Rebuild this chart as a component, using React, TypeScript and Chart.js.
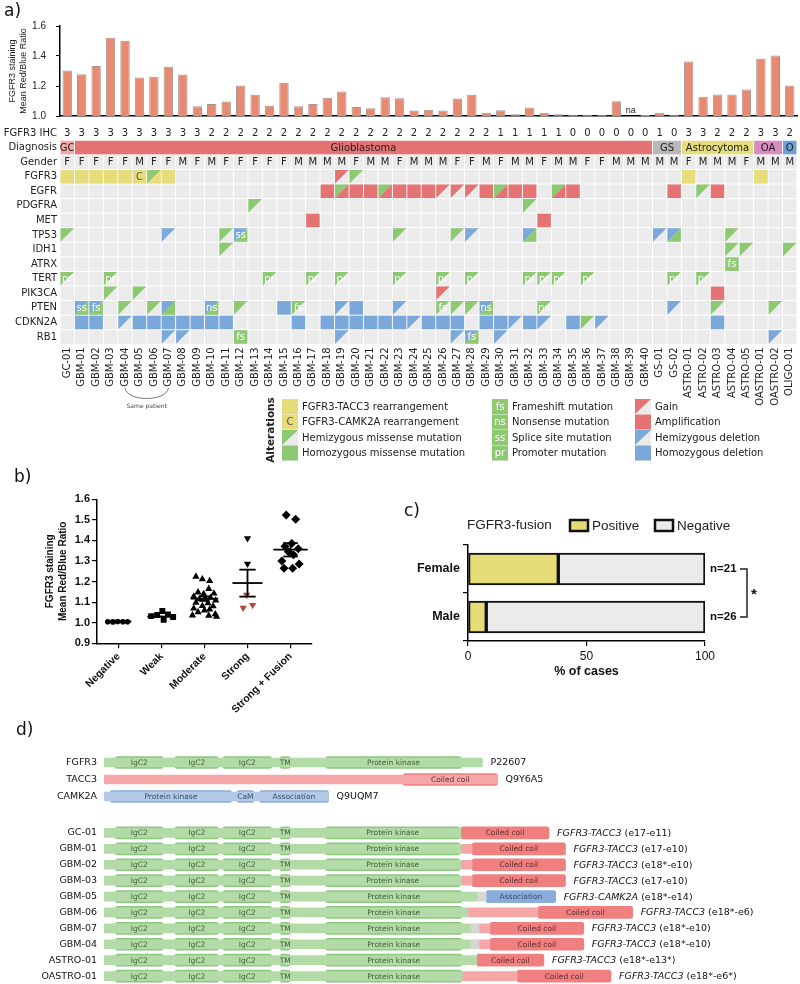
import React, { useEffect, useRef } from 'react';
import { Chart, registerables } from 'chart.js';

Chart.register(...registerables);

const DV = '"DejaVu Sans"';
const LS = '"Liberation Sans"';

/* ================= Panel a data ================= */
const SAMPLES = ['GC-01','GBM-01','GBM-02','GBM-03','GBM-04','GBM-05','GBM-06','GBM-07','GBM-08','GBM-09','GBM-10','GBM-11','GBM-12','GBM-13','GBM-14','GBM-15','GBM-16','GBM-17','GBM-18','GBM-19','GBM-20','GBM-21','GBM-22','GBM-23','GBM-24','GBM-25','GBM-26','GBM-27','GBM-28','GBM-29','GBM-30','GBM-31','GBM-32','GBM-33','GBM-34','GBM-35','GBM-36','GBM-37','GBM-38','GBM-39','GBM-40','GS-01','GS-02','ASTRO-01','ASTRO-02','ASTRO-03','ASTRO-04','ASTRO-05','OASTRO-01','OASTRO-02','OLIGO-01'];

const RATIO = [1.304,1.279,1.333,1.522,1.502,1.257,1.261,1.328,1.277,1.065,
  1.080,1.096,1.203,1.141,1.069,1.221,1.065,1.080,1.121,1.163,
  1.060,1.051,1.125,1.118,1.036,1.042,1.036,1.116,1.141,1.022,
  1.038,1.011,1.056,1.022,1.011,1.009,1.009,1.009,1.098,null,
  1.007,1.022,1.009,1.364,1.129,1.143,1.143,1.176,1.382,1.404,1.203];

const IHC = [3,3,3,3,3,3,3,3,3,3, 2,2,2,2,2,2,2,2,2,2, 2,2,2,2,2,2,2,2,2,2, 1,1,1,1,1,0,0,0,0,0, 0,1,0,3,3,2,2,2,3,3,2];

const GENDER = 'F F F F F M F F M F  M F F F F F M M M M  F M M F M M M F F M  F M M F M M F F M M  M M M F M M M F M M M'.split(/\s+/);

const DIAG_LABELS = ['GC','Glioblastoma','GS','Astrocytoma','OA','O'];
const DIAG_FIRST = [0,1,41,43,48,50];
const DIAG_LAST = [0,40,42,47,49,50];
const DIAG_COLORS = ['#f3a7a7','#e57373','#b8b8b8','#e6dd7c','#d98cc0','#6fa0d8'];

const GENES = ['FGFR3','EGFR','PDGFRA','MET','TP53','IDH1','ATRX','TERT','PIK3CA','PTEN','CDKN2A','RB1'];
const ROW_LABELS = ['FGFR3 IHC','Diagnosis','Gender', ...GENES];

// token codes: '.' none, Upper = full cell, lower = upper-left triangle, two letters = upper-left + lower-right, ':txt' = label
const ALT_FGFR3  = 'Y Y Y Y Y C gY Y . .  . . . . . . . . . r  g . . . . . . . . .  . . . . . . . . . .  . . . Y . . . . Y . .';
const ALT_EGFR   = '. . . . . . . . . .  . . . . . . . . R gR  R R gR R R R r r r R  gR R R . gR R . . . .  . . R . g R . . . . .';
const ALT_PDGFRA = '. . . . . . . . . .  . . . g . . . . . .  . . . . . . . . . .  . . g . . . . . . .  . . . . . . . . . . .';
const ALT_MET    = '. . . . . . . . . .  . . . . . . . R . .  . . . . . . . . . .  . . . R . . . . . .  . . . . . . . . . . .';
const ALT_TP53   = 'g . . . . . . b . .  . g bg:ss . . . . . . .  . . . g . . . g b .  . . bg . . . . . . .  . b bg . . . g . . . .';
const ALT_IDH1   = '. . . . . . . . . .  . g . . . . . . . .  . . . . . . . . . .  . . . . . . . . . .  . . . . . . g g . . g';
const ALT_ATRX   = '. . . . . . . . . .  . . . . . . . . . .  . . . . . . . . . .  . . . . . . . . . .  . . . . . . G:fs . . . .';
const ALT_TERT   = 'g:pr . . g:pr . . . . . .  . . . . g:pr . . g:pr . g:pr  . . . g:pr . . g:pr . g:pr .  . . g:pr g:pr g:pr . g:pr . . .  . . g:pr . g:pr . . . . . .';
const ALT_PIK3CA = '. . . g . g . . . .  . . . . . . . . . .  . . . . . . r . . .  . . . . . . . . . .  . . . . . R . . . . .';
const ALT_PTEN   = '. bg:ss bg:fs . g . g bg . .  bg:ns . g . . B g:fs . . b  B . . b . . g:fs g g bg:ns  . . . g:ns . . . . . .  . . b . . g . . . g .';
const ALT_CDKN2A = '. B B . b B B B B B  B B . . . . B . B B  B B B B b B B B . B  B b B b . B g b . .  . . . . . B . . . . .';
const ALT_RB1    = '. . . . . . . b b .  . . G:fs . . . . . . b  . . . . . . . b bg:fs .  b . . . . . . . . .  . . . . . . . . . b .';

const ALTERATIONS = [ALT_FGFR3, ALT_EGFR, ALT_PDGFRA, ALT_MET, ALT_TP53, ALT_IDH1, ALT_ATRX, ALT_TERT, ALT_PIK3CA, ALT_PTEN, ALT_CDKN2A, ALT_RB1]
  .map((s) => s.trim().split(/\s+/));

const LEGEND_CODES = ['Y','C','g','G','G:fs','G:ns','G:ss','G:pr','r','R','b','B'];
const LEGEND_TEXT = ['FGFR3-TACC3 rearrangement','FGFR3-CAMK2A rearrangement','Hemizygous missense mutation','Homozygous missense mutation',
  'Frameshift mutation','Nonsense mutation','Splice site mutation','Promoter mutation',
  'Gain','Amplification','Hemizygous deletion','Homozygous deletion'];

/* ================= Panel b data ================= */
const B_GROUPS = ['Negative','Weak','Moderate','Strong','Strong + Fusion'];
const B_NEG_VAL = [1.005,1.004,1.006,1.005,1.005];
const B_NEG_JIT = [-0.25,-0.13,-0.02,0.1,0.21];
const B_WEAK_VAL = [1.032,1.038,1.057,1.040,1.028,1.014];
const B_WEAK_JIT = [-0.24,-0.1,0.02,0.15,0.27,0.05];
const B_MOD_VAL = [1.224,1.212,1.203,1.165,1.148,1.142,1.140,1.128,1.122,1.118,1.115,1.108,1.098,1.095,1.082,1.080,1.070,1.065,1.060,1.052,1.042,1.036,1.035,1.030];
const B_MOD_JIT = [-0.2,-0.05,0.12,0.1,-0.15,0.22,-0.02,-0.25,0.14,0.02,-0.12,0.26,-0.2,0.08,-0.05,0.2,-0.25,0.12,0.0,-0.15,0.25,-0.28,0.1,0.28];
const B_STRONG_VAL = [1.410,1.286];
const B_STRONG_JIT = [0,0];
const B_STRONG_RED_VAL = [1.135,1.072,1.086];
const B_STRONG_RED_JIT = [-0.02,-0.1,0.12];
const B_FUSION_VAL = [1.524,1.503,1.385,1.372,1.360,1.345,1.330,1.300,1.285,1.265,1.265];
const B_FUSION_JIT = [-0.1,0.12,0.03,-0.13,0.18,-0.05,0.07,-0.2,0.2,-0.15,0.05];
const B_MEAN = [1.006,1.030,1.117,1.193,1.355];
const B_SEM_LO = [1.005,1.026,1.106,1.127,1.322];
const B_SEM_HI = [1.007,1.034,1.128,1.258,1.387];

/* ================= Panel c data ================= */
const C_SEX = ['Female','Male'];
const C_POS_PCT = [38.1, 7.7];
const C_NEG_PCT = [61.9, 92.3];
const C_N = [21, 26];

/* ================= Panel d data ================= */
const D_REF_NAMES = ['FGFR3','TACC3','CAMK2A'];
const D_REF_IDS = ['P22607','Q9Y6A5','Q9UQM7'];
const FGFR3_EC = [[24,126,'f','IgC2'],[151,244,'f','IgC2'],[253,357,'f','IgC2'],[375,397,'f','TM']];
const D_REF_ROWS = [
  { bb: [[0,806,'f']], dom: [...FGFR3_EC, [472,761,'f','Protein kinase']] },
  { bb: [[0,838,'t']], dom: [[637,838,'t','Coiled coil']] },
  { bb: [[0,478,'c']], dom: [[13,272,'c','Protein kinase'],[283,319,'c','CaM'],[331,478,'c','Association']] },
];
const D_FUSION_NAMES = ['GC-01','GBM-01','GBM-02','GBM-03','GBM-05','GBM-06','GBM-07','GBM-04','ASTRO-01','OASTRO-01'];
const D_FUSION_GENES = ['FGFR3-TACC3','FGFR3-TACC3','FGFR3-TACC3','FGFR3-TACC3','FGFR3-CAMK2A','FGFR3-TACC3','FGFR3-TACC3','FGFR3-TACC3','FGFR3-TACC3','FGFR3-TACC3'];
const D_FUSION_EXONS = ['(e17-e11)','(e17-e10)','(e18*-e10)','(e17-e10)','(e18*-e14)','(e18*-e6)','(e18*-e10)','(e18*-e10)','(e18*-e13*)','(e18*-e6*)'];
const D_FUSION_ROWS = [
  { bb: [[0,760,'f']], dom: [...FGFR3_EC, [472,758,'f','Protein kinase'], [760,948,'t','Coiled coil']] },
  { bb: [[0,760,'f'],[760,784,'t']], dom: [...FGFR3_EC, [472,758,'f','Protein kinase'], [784,983,'t','Coiled coil']] },
  { bb: [[0,760,'f'],[760,784,'t']], dom: [...FGFR3_EC, [472,758,'f','Protein kinase'], [784,983,'t','Coiled coil']] },
  { bb: [[0,760,'f'],[760,784,'t']], dom: [...FGFR3_EC, [472,758,'f','Protein kinase'], [784,983,'t','Coiled coil']] },
  { bb: [[0,794,'f'],[794,814,'x']], dom: [...FGFR3_EC, [472,762,'f','Protein kinase'], [814,962,'c','Association']] },
  { bb: [[0,775,'f'],[775,924,'t']], dom: [...FGFR3_EC, [472,762,'f','Protein kinase'], [924,1126,'t','Coiled coil']] },
  { bb: [[0,780,'f'],[780,799,'x'],[799,822,'t']], dom: [...FGFR3_EC, [472,762,'f','Protein kinase'], [822,1022,'t','Coiled coil']] },
  { bb: [[0,780,'f'],[780,799,'x'],[799,822,'t']], dom: [...FGFR3_EC, [472,762,'f','Protein kinase'], [822,1022,'t','Coiled coil']] },
  { bb: [[0,794,'f']], dom: [...FGFR3_EC, [472,762,'f','Protein kinase'], [794,937,'t','Coiled coil']] },
  { bb: [[0,763,'f'],[763,880,'t']], dom: [...FGFR3_EC, [472,762,'f','Protein kinase'], [880,1080,'t','Coiled coil']] },
];

/* ================= styles ================= */
const COL = { y: '#e6dc7a', g: '#8dc971', r: '#e67373', b: '#7ba8db', e: '#ebebeb' };
const BB_COLOR = { f: '#b3dba8', t: '#f5a6a6', c: '#b4c9e8', x: '#d6d6d6' };
const DOM_COLOR = { f: '#8cc87e', t: '#f07f7f', c: '#89acdb' };
const DOM_TEXT = { f: '#3e5e37', t: '#5e2b2b', c: '#33506f' };

function drawToken(ctx, x, y, w, h, tok) {
  ctx.fillStyle = COL.e;
  ctx.fillRect(x, y, w, h);
  if (!tok || tok === '.') return;
  const parts = tok.split(':');
  const code = parts[0];
  let text = parts[1] || '';
  let tl = null, br = null;
  if (code === 'C') { tl = 'y'; br = 'y'; text = 'C'; }
  else if (code.length === 1) {
    const k = code.toLowerCase();
    if (code === code.toUpperCase()) { tl = k; br = k; } else { tl = k; }
  } else { tl = code[0].toLowerCase(); br = code[1].toLowerCase(); }
  if (tl && tl === br) {
    ctx.fillStyle = COL[tl];
    ctx.fillRect(x, y, w, h);
  } else {
    if (tl) {
      ctx.fillStyle = COL[tl];
      ctx.beginPath(); ctx.moveTo(x, y); ctx.lineTo(x + w, y); ctx.lineTo(x, y + h); ctx.closePath(); ctx.fill();
    }
    if (br) {
      ctx.fillStyle = COL[br];
      ctx.beginPath(); ctx.moveTo(x + w, y); ctx.lineTo(x + w, y + h); ctx.lineTo(x, y + h); ctx.closePath(); ctx.fill();
    }
  }
  if (text) {
    ctx.fillStyle = code === 'C' ? '#555' : '#fff';
    ctx.font = `10px ${DV}`;
    ctx.textAlign = 'center';
    ctx.textBaseline = 'middle';
    ctx.fillText(text, x + w / 2, y + h / 2 + 0.5);
  }
}

/* ================= Panel a: bars ================= */
const naPlugin = {
  id: 'na',
  afterDatasetsDraw(chart) {
    const { ctx } = chart; const xs = chart.scales.x, ys = chart.scales.y;
    ctx.save();
    ctx.font = `9px ${LS}`; ctx.fillStyle = '#222'; ctx.textAlign = 'center'; ctx.textBaseline = 'bottom';
    RATIO.forEach((v, i) => { if (v == null) ctx.fillText('na', xs.getPixelForValue(i), ys.getPixelForValue(1.0) - 1); });
    ctx.restore();
  },
};

function barConfig() {
  return {
    type: 'bar',
    data: { labels: SAMPLES, datasets: [{ data: RATIO, backgroundColor: '#e88a71', borderColor: '#a59590', borderWidth: 1, barPercentage: 0.65, categoryPercentage: 1 }] },
    options: {
      animation: false, responsive: false, events: [],
      layout: { padding: { left: 0, right: 3, top: 26, bottom: 6 } },
      plugins: { legend: { display: false }, tooltip: { enabled: false } },
      scales: {
        x: {
          offset: true, grid: { display: false, drawTicks: false }, ticks: { display: false },
          border: { display: true, color: '#000', width: 1.5 },
          afterFit: (s) => { s.height = 0; s.paddingLeft = 0; s.paddingRight = 0; },
        },
        y: {
          min: 1.0, max: 1.6,
          ticks: { stepSize: 0.2, padding: 10, font: { family: 'Liberation Sans', size: 10 }, color: '#222', callback: (v) => Number(v).toFixed(1) },
          grid: { drawOnChartArea: false, tickLength: 4, color: '#000' },
          border: { color: '#000', width: 1.5 },
          title: { display: true, text: ['FGFR3 staining', 'Mean Red/Blue Ratio'], font: { family: 'Liberation Sans', size: 9, lineHeight: 1.25 }, color: '#222', padding: { top: 7, bottom: 0 } },
          afterFit: (s) => { s.width = 60; s.paddingTop = 0; s.paddingBottom = 0; },
        },
      },
    },
    plugins: [naPlugin],
  };
}

/* ================= Panel a: heatmap ================= */
const HEAT_H = 350;
const heatPlugin = {
  id: 'heat',
  afterDraw(chart) {
    const { ctx } = chart; const xs = chart.scales.x, ys = chart.scales.y;
    const cw = (xs.right - xs.left) / SAMPLES.length;
    const rh = (ys.bottom - ys.top) / ROW_LABELS.length;
    const cellX = (i) => xs.getPixelForValue(i) - cw / 2;
    const cellY = (r) => ys.getPixelForValue(r) - rh / 2;
    ctx.save();
    ctx.textAlign = 'center'; ctx.textBaseline = 'middle';
    ctx.font = `10px ${DV}`;
    ctx.fillStyle = '#222';
    IHC.forEach((v, i) => ctx.fillText(String(v), xs.getPixelForValue(i), ys.getPixelForValue(0) + 0.5));
    DIAG_LABELS.forEach((lab, g) => {
      const x0 = cellX(DIAG_FIRST[g]) + 0.5, x1 = cellX(DIAG_LAST[g]) + cw - 0.5;
      const y0 = cellY(1) + 0.5;
      ctx.fillStyle = DIAG_COLORS[g];
      ctx.fillRect(x0, y0, x1 - x0, rh - 1);
      ctx.fillStyle = '#222';
      ctx.fillText(lab, (x0 + x1) / 2, y0 + (rh - 1) / 2 + 0.5);
    });
    GENDER.forEach((gch, i) => {
      const x0 = cellX(i) + 0.5, y0 = cellY(2) + 0.5;
      ctx.fillStyle = COL.e; ctx.fillRect(x0, y0, cw - 1, rh - 1);
      ctx.fillStyle = '#222'; ctx.fillText(gch, x0 + (cw - 1) / 2, y0 + (rh - 1) / 2 + 0.5);
    });
    ALTERATIONS.forEach((row, g) => row.forEach((tok, i) => drawToken(ctx, cellX(i) + 0.5, cellY(3 + g) + 0.5, cw - 1, rh - 1, tok)));

    // "Same patient" bracket under GBM-04 .. GBM-07
    const xa = xs.getPixelForValue(4), xb = xs.getPixelForValue(7);
    ctx.strokeStyle = '#555'; ctx.lineWidth = 0.8;
    ctx.beginPath(); ctx.moveTo(xa, 266); ctx.bezierCurveTo(xa + 2, 280, xb - 2, 280, xb, 266); ctx.stroke();
    ctx.fillStyle = '#444'; ctx.font = `6px ${DV}`;
    ctx.fillText('Same patient', (xa + xb) / 2, 284);

    // Legend
    ctx.save();
    ctx.translate(271, 308); ctx.rotate(-Math.PI / 2);
    ctx.font = `bold 10.5px ${DV}`; ctx.fillStyle = '#222'; ctx.fillText('Alterations', 0, 0);
    ctx.restore();
    const colX = [282, 492, 635];
    LEGEND_CODES.forEach((code, k) => {
      const c = Math.floor(k / 4), r = k % 4;
      const x = colX[c], y = 277 + r * 15.5;
      drawToken(ctx, x, y, 16, 15, code);
      ctx.font = `10px ${DV}`; ctx.fillStyle = '#222'; ctx.textAlign = 'left'; ctx.textBaseline = 'middle';
      ctx.fillText(LEGEND_TEXT[k], x + 20, y + 8);
      ctx.textAlign = 'center';
    });
    ctx.restore();
  },
};

function heatConfig() {
  return {
    type: 'bar',
    data: { labels: SAMPLES, datasets: [] },
    options: {
      animation: false, responsive: false, events: [],
      layout: { padding: { left: 0, right: 3, top: 3.7, bottom: 0 } },
      plugins: { legend: { display: false }, tooltip: { enabled: false } },
      scales: {
        x: {
          type: 'category', offset: true,
          grid: { display: false, drawTicks: false }, border: { display: false },
          ticks: { autoSkip: false, minRotation: 90, maxRotation: 90, padding: 3, font: { family: 'DejaVu Sans', size: 10 }, color: '#222' },
          afterFit: (s) => { s.height = HEAT_H - 222.3; s.paddingLeft = 0; s.paddingRight = 0; },
        },
        y: {
          type: 'category', labels: ROW_LABELS, offset: true,
          grid: { display: false, drawTicks: false }, border: { display: false },
          ticks: { autoSkip: false, padding: 3, font: { family: 'DejaVu Sans', size: 10 }, color: '#222' },
          afterFit: (s) => { s.width = 60; s.paddingTop = 0; s.paddingBottom = 0; },
        },
      },
    },
    plugins: [heatPlugin],
  };
}

/* ================= Panel b ================= */
const meanPlugin = {
  id: 'means',
  afterDatasetsDraw(chart) {
    const { ctx } = chart; const xs = chart.scales.x, ys = chart.scales.y;
    const half = [0.3, 0.33, 0.32, 0.35, 0.4];
    const cap = [0, 0, 0.12, 0.19, 0.17];
    ctx.save(); ctx.strokeStyle = '#000'; ctx.lineWidth = 1.8;
    B_MEAN.forEach((m, i) => {
      const ym = ys.getPixelForValue(m);
      ctx.beginPath(); ctx.moveTo(xs.getPixelForValue(i - half[i]), ym); ctx.lineTo(xs.getPixelForValue(i + half[i]), ym); ctx.stroke();
      const xc = xs.getPixelForValue(i), ylo = ys.getPixelForValue(B_SEM_LO[i]), yhi = ys.getPixelForValue(B_SEM_HI[i]);
      ctx.beginPath(); ctx.moveTo(xc, ylo); ctx.lineTo(xc, yhi); ctx.stroke();
      if (cap[i] > 0) {
        [ylo, yhi].forEach((yy) => { ctx.beginPath(); ctx.moveTo(xs.getPixelForValue(i - cap[i]), yy); ctx.lineTo(xs.getPixelForValue(i + cap[i]), yy); ctx.stroke(); });
      }
    });
    ctx.restore();
  },
};

function pts(vals, jit, gi) { return vals.map((v, k) => ({ x: gi + jit[k], y: v })); }

function bConfig() {
  const common = { backgroundColor: '#000', borderColor: '#000', borderWidth: 0 };
  return {
    type: 'scatter',
    data: {
      datasets: [
        { ...common, data: pts(B_NEG_VAL, B_NEG_JIT, 0), pointStyle: 'circle', pointRadius: 2.8 },
        { ...common, data: pts(B_WEAK_VAL, B_WEAK_JIT, 1), pointStyle: 'rect', pointRadius: 4.2 },
        { ...common, data: pts(B_MOD_VAL, B_MOD_JIT, 2), pointStyle: 'triangle', pointRadius: 4.2 },
        { ...common, data: pts(B_STRONG_VAL, B_STRONG_JIT, 3), pointStyle: 'triangle', rotation: 180, pointRadius: 4.2 },
        { backgroundColor: '#b04a3c', borderColor: '#b04a3c', borderWidth: 0, data: pts(B_STRONG_RED_VAL, B_STRONG_RED_JIT, 3), pointStyle: 'triangle', rotation: 180, pointRadius: 4.2 },
        { ...common, data: pts(B_FUSION_VAL, B_FUSION_JIT, 4), pointStyle: 'rectRot', pointRadius: 4.5 },
      ],
    },
    options: {
      animation: false, responsive: false, events: [],
      layout: { padding: { left: 0, right: 18, top: 37.3, bottom: 0 } },
      plugins: { legend: { display: false }, tooltip: { enabled: false } },
      scales: {
        x: {
          type: 'linear', min: -0.5, max: 4.5,
          afterBuildTicks: (s) => { s.ticks = B_GROUPS.map((_, i) => ({ value: i })); },
          ticks: { autoSkip: false, minRotation: 45, maxRotation: 45, padding: 2, font: { family: 'Liberation Sans', size: 10.5, weight: 'bold' }, color: '#111', callback: (v) => B_GROUPS[v] },
          grid: { drawOnChartArea: false, tickLength: 5, color: '#000', lineWidth: 1.2 },
          border: { color: '#000', width: 1.5 },
          afterFit: (s) => { s.height = 80.7; s.paddingLeft = 0; s.paddingRight = 0; },
        },
        y: {
          min: 0.9, max: 1.6,
          afterBuildTicks: (s) => { s.ticks = [0.9, 1.0, 1.1, 1.2, 1.3, 1.4, 1.5, 1.6].map((v) => ({ value: v })); },
          ticks: { padding: 2, font: { family: 'Liberation Sans', size: 11, weight: 'bold' }, color: '#111', callback: (v) => Number(v).toFixed(1) },
          grid: { drawOnChartArea: false, tickLength: 5, color: '#000', lineWidth: 1.2 },
          border: { color: '#000', width: 1.5 },
          title: { display: true, text: ['FGFR3 staining', 'Mean Red/Blue Ratio'], font: { family: 'Liberation Sans', size: 10, weight: 'bold', lineHeight: 1.3 }, color: '#111', padding: { top: 43.5, bottom: 0 } },
          afterFit: (s) => { s.width = 97; s.paddingTop = 0; s.paddingBottom = 0; },
        },
      },
    },
    plugins: [meanPlugin],
  };
}

/* ================= Panel c ================= */
const cPlugin = {
  id: 'cextra',
  afterDraw(chart) {
    const { ctx } = chart; const xs = chart.scales.x, ys = chart.scales.y;
    ctx.save();
    ctx.textBaseline = 'middle'; ctx.textAlign = 'left';
    ctx.font = `13.5px ${LS}`; ctx.fillStyle = '#222';
    ctx.fillText('FGFR3-fusion', 67, 30);
    const boxX = [170, 255];
    chart.data.datasets.forEach((ds, k) => {
      const bx = boxX[k];
      ctx.fillStyle = ds.backgroundColor; ctx.fillRect(bx, 25, 18, 11);
      ctx.strokeStyle = '#111'; ctx.lineWidth = 2.5; ctx.strokeRect(bx, 25, 18, 11);
      ctx.fillStyle = '#222'; ctx.font = `13.5px ${LS}`; ctx.fillText(ds.label, bx + 22, 31);
    });
    const xr = xs.right;
    ctx.font = `bold 11.5px ${LS}`; ctx.fillStyle = '#111';
    C_N.forEach((n, i) => ctx.fillText('n=' + n, xr + 5, ys.getPixelForValue(i)));
    const y0 = ys.getPixelForValue(0), y1 = ys.getPixelForValue(1);
    ctx.strokeStyle = '#222'; ctx.lineWidth = 1.5;
    ctx.beginPath(); ctx.moveTo(xr + 35, y0); ctx.lineTo(xr + 42, y0); ctx.lineTo(xr + 42, y1); ctx.lineTo(xr + 35, y1); ctx.stroke();
    ctx.font = `bold 15px ${LS}`; ctx.fillText('*', xr + 46, (y0 + y1) / 2 + 2);
    ctx.restore();
  },
};

function cConfig() {
  const bar = { borderColor: '#111', borderWidth: 2, borderSkipped: false, barThickness: 32 };
  return {
    type: 'bar',
    data: {
      labels: C_SEX,
      datasets: [
        { ...bar, label: 'Positive', data: C_POS_PCT, backgroundColor: '#e5dc78' },
        { ...bar, label: 'Negative', data: C_NEG_PCT, backgroundColor: '#ebebeb' },
      ],
    },
    options: {
      indexAxis: 'y', animation: false, responsive: false, events: [],
      layout: { padding: { left: 0, right: 95, top: 50, bottom: 0 } },
      plugins: { legend: { display: false }, tooltip: { enabled: false } },
      scales: {
        x: {
          stacked: true, min: 0, max: 100,
          ticks: { stepSize: 50, padding: 3, font: { family: 'Liberation Sans', size: 12 }, color: '#111' },
          grid: { drawOnChartArea: false, tickLength: 5, color: '#000', lineWidth: 1.2 },
          border: { color: '#000', width: 1.5 },
          title: { display: true, text: '% of cases', font: { family: 'Liberation Sans', size: 12.5, weight: 'bold' }, color: '#111', padding: { top: 0, bottom: 5.5 } },
          afterFit: (s) => { s.height = 44; s.paddingLeft = 0; s.paddingRight = 0; },
        },
        y: {
          stacked: true,
          ticks: { padding: 3, font: { family: 'Liberation Sans', size: 12.5, weight: 'bold' }, color: '#111' },
          grid: { drawOnChartArea: false, tickLength: 5, color: '#000', lineWidth: 1.2 },
          border: { color: '#000', width: 1.5 },
          afterFit: (s) => { s.width = 68; s.paddingTop = 0; s.paddingBottom = 0; },
        },
      },
    },
    plugins: [cPlugin],
  };
}

/* ================= Panel d ================= */
function makeDomainPlugin(rows, labelFn) {
  return {
    id: 'domtext',
    afterDatasetsDraw(chart) {
      const { ctx } = chart; const xs = chart.scales.x, ys = chart.scales.y;
      ctx.save();
      ctx.textAlign = 'center'; ctx.textBaseline = 'middle';
      ctx.font = `7.5px ${DV}`;
      chart.data.datasets.forEach((ds, d) => {
        if (!ds.domLabels) return;
        const meta = chart.getDatasetMeta(d);
        meta.data.forEach((el, i) => {
          const lab = ds.domLabels[i];
          if (!lab) return;
          const p = el.getProps(['x', 'base', 'y'], true);
          ctx.fillStyle = DOM_TEXT[ds.domKinds[i]];
          ctx.fillText(lab, (p.x + p.base) / 2, p.y + 0.5);
        });
      });
      // right-side labels
      ctx.textAlign = 'left';
      rows.forEach((r, i) => {
        const ends = [...r.bb, ...r.dom].map((s) => s[1]);
        const x = xs.getPixelForValue(Math.max(...ends)) + 8;
        const y = ys.getPixelForValue(i) + 0.5;
        const lab = labelFn(i);
        ctx.fillStyle = '#111';
        let cx = x;
        if (lab.italic) {
          ctx.font = `italic 9.5px ${DV}`;
          ctx.fillText(lab.italic, cx, y);
          cx += ctx.measureText(lab.italic + ' ').width;
        }
        ctx.font = `9.5px ${DV}`;
        ctx.fillText(lab.normal, cx, y);
      });
      ctx.restore();
    },
  };
}

function domainConfig(names, rows, labelFn, padTop, padBottom) {
  const nBB = Math.max(...rows.map((r) => r.bb.length));
  const nDom = Math.max(...rows.map((r) => r.dom.length));
  const datasets = [];
  for (let k = 0; k < nBB; k++) {
    datasets.push({
      data: rows.map((r) => (r.bb[k] ? [r.bb[k][0], r.bb[k][1]] : null)),
      backgroundColor: rows.map((r) => (r.bb[k] ? BB_COLOR[r.bb[k][2]] : 'rgba(0,0,0,0)')),
      barThickness: 9, grouped: false, borderSkipped: false, borderRadius: 1, borderWidth: 0,
    });
  }
  for (let k = 0; k < nDom; k++) {
    datasets.push({
      data: rows.map((r) => (r.dom[k] ? [r.dom[k][0], r.dom[k][1]] : null)),
      backgroundColor: rows.map((r) => (r.dom[k] ? DOM_COLOR[r.dom[k][2]] : 'rgba(0,0,0,0)')),
      domLabels: rows.map((r) => (r.dom[k] ? r.dom[k][3] : '')),
      domKinds: rows.map((r) => (r.dom[k] ? r.dom[k][2] : 'f')),
      barThickness: 12, grouped: false, borderSkipped: false, borderRadius: 2.5, borderWidth: 0,
    });
  }
  return {
    type: 'bar',
    data: { labels: names, datasets },
    options: {
      indexAxis: 'y', animation: false, responsive: false, events: [],
      layout: { padding: { left: 0, right: 38.7, top: padTop, bottom: padBottom } },
      plugins: { legend: { display: false }, tooltip: { enabled: false } },
      scales: {
        x: { type: 'linear', min: 0, max: 1400, display: false },
        y: {
          type: 'category', offset: true,
          grid: { display: false, drawTicks: false }, border: { display: false },
          ticks: { autoSkip: false, padding: 7, font: { family: 'DejaVu Sans', size: 9.5 }, color: '#111' },
          afterFit: (s) => { s.width = 104; s.paddingTop = 0; s.paddingBottom = 0; },
        },
      },
    },
    plugins: [makeDomainPlugin(rows, labelFn)],
  };
}

/* ================= App ================= */
export default function App() {
  const aRef = useRef(null);
  const hRef = useRef(null);
  const bRef = useRef(null);
  const cRef = useRef(null);
  const d1Ref = useRef(null);
  const d2Ref = useRef(null);

  useEffect(() => {
    const charts = [
      new Chart(aRef.current, barConfig()),
      new Chart(hRef.current, heatConfig()),
      new Chart(bRef.current, bConfig()),
      new Chart(cRef.current, cConfig()),
      new Chart(d1Ref.current, domainConfig(D_REF_NAMES, D_REF_ROWS, (i) => ({ normal: D_REF_IDS[i] }), 9, 8)),
      new Chart(d2Ref.current, domainConfig(D_FUSION_NAMES, D_FUSION_ROWS, (i) => ({ italic: D_FUSION_GENES[i], normal: D_FUSION_EXONS[i] }), 8, 0)),
    ];
    return () => charts.forEach((c) => c.destroy());
  }, []);

  const abs = (left, top) => ({ position: 'absolute', left, top });
  const lbl = { position: 'absolute', fontFamily: 'DejaVu Sans', fontSize: 17, lineHeight: '20px', color: '#111' };

  return (
    <div style={{ position: 'absolute', left: 0, top: 0, width: 800, height: 984, overflow: 'hidden', background: '#fff' }}>
      <canvas ref={aRef} width={800} height={122} style={abs(0, 0)} />
      <canvas ref={hRef} width={800} height={HEAT_H} style={abs(0, 122)} />
      <canvas ref={bRef} width={330} height={262} style={abs(0, 462)} />
      <canvas ref={cRef} width={400} height={190} style={abs(400, 495)} />
      <canvas ref={d1Ref} width={800} height={68} style={abs(0, 745)} />
      <canvas ref={d2Ref} width={800} height={167} style={abs(0, 817)} />
      <div style={{ ...lbl, left: 4, top: 0 }}>a)</div>
      <div style={{ ...lbl, left: 14, top: 466 }}>b)</div>
      <div style={{ ...lbl, left: 404, top: 500 }}>c)</div>
      <div style={{ ...lbl, left: 16, top: 719 }}>d)</div>
    </div>
  );
}
